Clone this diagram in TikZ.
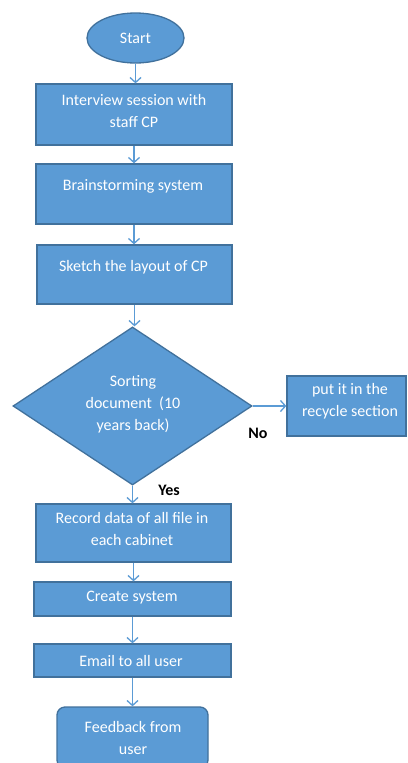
\documentclass[tikz,border=0pt]{standalone}
\usepackage{fontspec}
\setmainfont{Carlito}
\usetikzlibrary{shapes.geometric,arrows.meta}
\definecolor{boxfill}{HTML}{5B9BD5}
\definecolor{boxline}{HTML}{41719C}
\definecolor{flowline}{HTML}{5B9BD5}
\begin{document}
\begin{tikzpicture}[x=1pt,y=-1pt,
  stepbox/.style={draw=boxline,fill=boxfill,line width=1.3pt,rectangle,inner sep=0pt},
  termbox/.style={draw=boxline,fill=boxfill,line width=1.3pt,ellipse,inner sep=0pt},
  decbox/.style={draw=boxline,fill=boxfill,line width=1.3pt,diamond,inner sep=0pt},
  steptext/.style={text=white,align=center,inner sep=0pt,font=\fontsize{16}{22}\selectfont},
  branch/.style={text=black,inner sep=0pt,font=\fontsize{16}{18}\selectfont\bfseries},
  flow/.style={draw=flowline,line width=1.5pt,-{Straight Barb[length=5pt,width=11pt,line width=1.3pt]}}]
\useasboundingbox (0,0) rectangle (407,763);
\clip (0,0) rectangle (407,763);
\fill[white] (0,0) rectangle (407,763);

% process shapes
\node[termbox,minimum width=97pt,minimum height=50pt] (start) at (135.5,38) {};
\node[stepbox,minimum width=196pt,minimum height=61pt] (b1) at (134,114.5) {};
\node[stepbox,minimum width=196pt,minimum height=60pt] (b2) at (134,194) {};
\node[stepbox,minimum width=195pt,minimum height=59pt] (b3) at (134.5,274.5) {};
\node[decbox,minimum width=239pt,minimum height=158pt] (dec) at (132.5,406) {};
\node[stepbox,minimum width=119pt,minimum height=60pt] (rec) at (346.5,406) {};
\node[stepbox,minimum width=195pt,minimum height=58pt] (b4) at (133.5,533) {};
\node[stepbox,minimum width=197pt,minimum height=34pt] (b5) at (132.5,599) {};
\node[stepbox,minimum width=197pt,minimum height=33pt] (b6) at (132.5,660.5) {};
\node[stepbox,rounded corners=8pt,minimum width=151pt,minimum height=61pt] (fb) at (132.5,737.5) {};

% labels
\node[steptext] (ts) at (135.5,38) {Start};
\node[steptext] (t1) at (134,111) {Interview session with\\staff CP};
\node[steptext] (t2) at (133,186) {Brainstorming system};
\node[steptext] (t3) at (133.5,267) {Sketch the layout of CP};
\node[steptext] (td) at (133,404) {Sorting\\document\ \ (10\\years back)};
\node[steptext] (tr) at (350,401) {put it in the\\recycle section};
\node[steptext] (t4) at (132,529) {Record data of all file in\\each cabinet};
\node[steptext] (t5) at (132,598) {Create system};
\node[steptext] (t6) at (131,661) {Email to all user};
\node[steptext] (t7) at (133,737.5) {Feedback from\\user};
\node[branch] (no) at (258,433) {No};
\node[branch] (yes) at (169,490) {Yes};

% connectors
\draw[flow] (start.south) -- (start.south |- b1.north);
\draw[flow] (b1.south) -- (b1.south |- b2.north);
\draw[flow] (b2.south) -- (b2.south |- b3.north);
\draw[flow] (b3.south) -- (b3.south |- dec.north);
\draw[flow] (dec.east) -- (rec.west);
\draw[flow] (dec.south) -- (dec.south |- b4.north);
\draw[flow] (b4.south) -- (b4.south |- b5.north);
\draw[flow] (b5.south) -- (b5.south |- b6.north);
\draw[flow] (b6.south) -- (b6.south |- fb.north);
\end{tikzpicture}
\end{document}
